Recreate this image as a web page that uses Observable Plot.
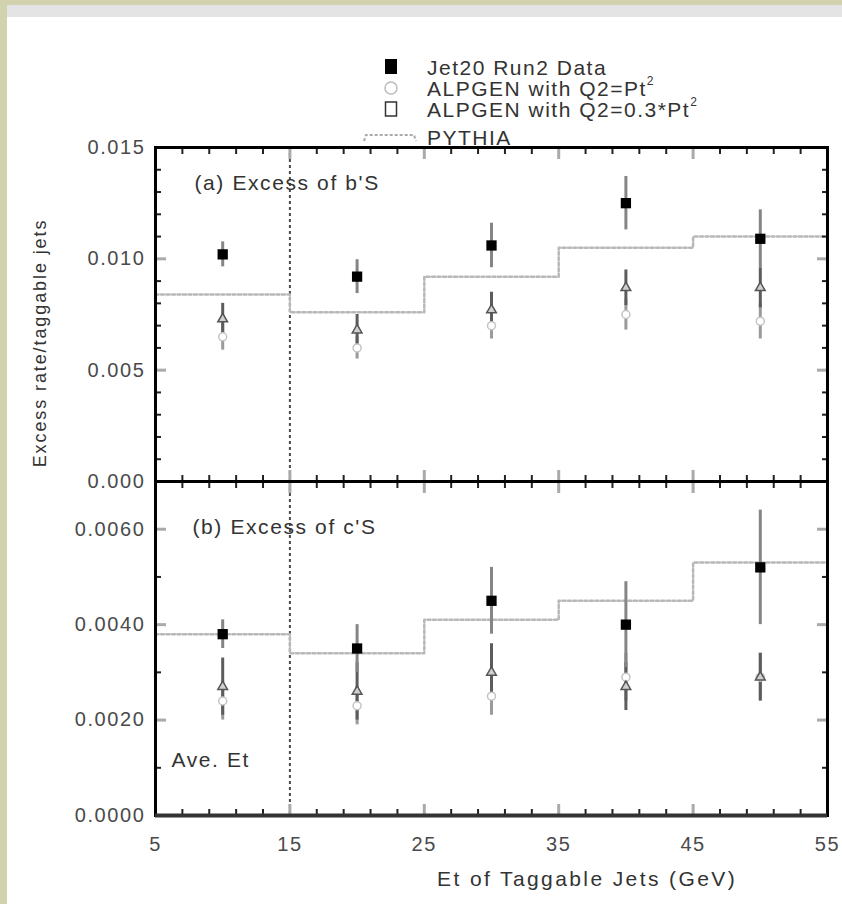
<!DOCTYPE html>
<html>
<head>
<meta charset="utf-8">
<script src="https://cdn.jsdelivr.net/npm/d3@7"></script>
<script src="https://cdn.jsdelivr.net/npm/@observablehq/plot@0.6"></script>
<style>
  html, body { margin: 0; padding: 0; background: #ffffff; }
  #page { position: relative; width: 842px; height: 904px; overflow: hidden; background: #ffffff;
          font-family: "Liberation Sans", Arial, Helvetica, sans-serif; color: #333; }
  .strip-left { position: absolute; left: 0; top: 0; width: 7px; height: 904px; background: #d3d2ae; }
  .strip-top { position: absolute; left: 0; top: 0; width: 842px; height: 5px; background: #d3d2ae; }
  .band { position: absolute; left: 7px; top: 5px; width: 835px; height: 12px; background: #e4e4e4; }
  .abs { position: absolute; }
  .txt { font-size: 21px; letter-spacing: 1.5px; color: #333; white-space: nowrap; line-height: 1; }
  sup { font-size: 12px; position: relative; top: -3px; letter-spacing: 0; }
</style>
</head>
<body>
<div id="page">
  <div class="strip-left"></div>
  <div class="strip-top"></div>
  <div class="band"></div>
  <div id="panelA" class="abs" style="left:0; top:17px;"></div>
  <div id="panelB" class="abs" style="left:0; top:476px;"></div>
  <div id="legend" class="abs" style="left:0; top:0;"></div>
  <div class="abs txt" id="ytitle" style="left:40px; top:343px; transform: translate(-50%,-50%) rotate(-90deg); font-size:18px; letter-spacing:1.9px;">Excess rate/taggable jets</div>
  <div class="abs txt" style="left:437px; top:868px; letter-spacing:2.4px;">Et of Taggable Jets (GeV)</div>
</div>
<script>
// ---------------- data ----------------
const etBins = [10, 20, 30, 40, 50];
const pythiaEdges = [5, 15, 25, 35, 45, 55];

// (a) Excess of b'S
const bData = [0.0102, 0.0092, 0.0106, 0.0125, 0.0109];
const bDataErr = [0.00056, 0.00076, 0.0010, 0.0012, 0.0013];
const bAlpQ03 = [0.0073, 0.0068, 0.0077, 0.0087, 0.0087];
const bAlpQ03Err = [0.0007, 0.0007, 0.0008, 0.0008, 0.0009];
const bAlpQ1 = [0.0065, 0.0060, 0.0070, 0.0075, 0.0072];
const bAlpQ1Err = [0.0006, 0.0005, 0.0006, 0.0007, 0.0008];
const bPythia = [0.0084, 0.0076, 0.0092, 0.0105, 0.0110];

// (b) Excess of c'S
const cData = [0.0038, 0.0035, 0.0045, 0.0040, 0.0052];
const cDataErr = [0.0003, 0.0005, 0.0007, 0.0009, 0.0012];
const cAlpQ03 = [0.0027, 0.0026, 0.0030, 0.0027, 0.0029];
const cAlpQ03Err = [0.0006, 0.0006, 0.0006, 0.0005, 0.0005];
const cAlpQ1 = [0.0024, 0.0023, 0.0025, 0.0029, 0.0029];
const cAlpQ1Err = [0.0004, 0.0004, 0.0004, 0.0005, 0.0005];
const cPythia = [0.0038, 0.0034, 0.0041, 0.0045, 0.0053];

const aveEt = 15;
const xTickLabels = [5, 15, 25, 35, 45, 55];
const xMajorTicks = [15, 25, 35, 45];
const xMinorTicks = [7, 9, 11, 13, 17, 19, 21, 23, 27, 29, 31, 33, 37, 39, 41, 43, 47, 49, 51, 53];
const aYLabels = [0, 0.005, 0.010, 0.015];
const aYMinor = [0.001, 0.002, 0.003, 0.004, 0.006, 0.007, 0.008, 0.009, 0.011, 0.012, 0.013, 0.014];
const bYLabels = [0, 0.002, 0.004, 0.006];
const bYMinor = [0.001, 0.003, 0.005, 0.007];

const legendItems = [
  {label: "Jet20 Run2 Data", sup: ""},
  {label: "ALPGEN with Q2=Pt", sup: "2"},
  {label: "ALPGEN with Q2=0.3*Pt", sup: "2"},
  {label: "PYTHIA", sup: ""}
];

// ---------------- helpers ----------------
const rows = (v, e) => etBins.map((x, i) => ({x, y: v[i], lo: v[i] - e[i], hi: v[i] + e[i]}));
const steps = (v) => pythiaEdges.map((x, i) => ({x, y: v[Math.min(i, v.length - 1)]}));

const W = 842, ML = 155, MR = 15;

function panel(o) {
  const data = rows(o.data, o.dataErr);
  const tri = rows(o.tri, o.triErr);
  const circ = rows(o.circ, o.circErr);
  const marks = [
    Plot.ruleX([aveEt], {stroke: "#4a4a4a", strokeWidth: 2, strokeDasharray: "3,3"}),
    Plot.line(steps(o.pythia), {x: "x", y: "y", curve: "step-after", stroke: "#b8b8b8", strokeWidth: 2.5, strokeDasharray: "3,2.5"}),
    Plot.ruleX(circ, {x: "x", y1: "lo", y2: "hi", stroke: "#9a9a9a", strokeWidth: 3}),
    Plot.ruleX(tri, {x: "x", y1: "lo", y2: "hi", stroke: "#5c5c5c", strokeWidth: 3}),
    Plot.ruleX(data, {x: "x", y1: "lo", y2: "hi", stroke: "#858585", strokeWidth: 3}),
    Plot.dot(circ, {x: "x", y: "y", symbol: "circle", r: 4, stroke: "#c4c4c4", strokeWidth: 1.5, fill: "white"}),
    Plot.dot(tri, {x: "x", y: "y", symbol: "triangle", r: 3.6, stroke: "#555", strokeWidth: 1.5, fill: "#d0d0d0"}),
    Plot.dot(data, {x: "x", y: "y", symbol: "square", r: 5.8, fill: "black"}),
    // inward ticks
    Plot.axisY({anchor: "left", ticks: o.yMinor, tickSize: -6, stroke: "#222", strokeWidth: 2, fill: "none", label: null}),
    Plot.axisY({anchor: "right", ticks: o.yMinor, tickSize: -6, stroke: "#222", strokeWidth: 2, fill: "none", label: null}),
    Plot.axisY({anchor: "left", ticks: o.yLabels, tickSize: -11, stroke: "#aaa", strokeWidth: 3, fill: "none", label: null}),
    Plot.axisY({anchor: "right", ticks: o.yLabels, tickSize: -11, stroke: "#aaa", strokeWidth: 3, fill: "none", label: null}),
    Plot.axisX({anchor: "bottom", ticks: xMinorTicks, tickSize: -6, stroke: "#222", strokeWidth: 2, fill: "none", label: null}),
    Plot.axisX({anchor: "top", ticks: xMinorTicks, tickSize: -6, stroke: "#222", strokeWidth: 2, fill: "none", label: null}),
    Plot.axisX({anchor: "bottom", ticks: xMajorTicks, tickSize: -11, stroke: "#aaa", strokeWidth: 3, fill: "none", label: null}),
    Plot.axisX({anchor: "top", ticks: xMajorTicks, tickSize: -11, stroke: "#aaa", strokeWidth: 3, fill: "none", label: null}),
    Plot.frame({stroke: "black", strokeWidth: 3}),
    // tick labels
    Plot.axisY({anchor: "left", ticks: o.yLabels, tickSize: 0, tickPadding: 10, tickFormat: o.fmt, fill: "#4a4a4a", label: null}),
    Plot.text([o.title], {frameAnchor: "top-left", dx: o.titleDx, dy: o.titleDy, textAnchor: "start", lineAnchor: "middle", fill: "#333", fontSize: 21})
  ];
  if (o.extra) marks.push(...o.extra);
  if (o.showX) {
    marks.push(Plot.axisX({anchor: "bottom", ticks: xTickLabels, tickSize: 0, tickPadding: 21, tickFormat: d3.format("d"), fill: "#4a4a4a", label: null}));
  }
  return Plot.plot({
    width: W,
    height: o.height,
    marginLeft: ML,
    marginRight: MR,
    marginTop: o.marginTop,
    marginBottom: o.marginBottom,
    x: {domain: [5, 55]},
    y: {domain: o.yDomain},
    style: {background: "transparent", fontFamily: "'Liberation Sans', Arial, Helvetica, sans-serif", fontSize: "20px", letterSpacing: "1.6px", color: "#333", overflow: "visible"},
    marks
  });
}

document.getElementById("panelA").appendChild(panel({
  data: bData, dataErr: bDataErr, tri: bAlpQ03, triErr: bAlpQ03Err, circ: bAlpQ1, circErr: bAlpQ1Err, pythia: bPythia,
  yDomain: [0, 0.015], yLabels: aYLabels, yMinor: aYMinor, fmt: d3.format(".3f"),
  title: "(a) Excess of b'S", titleDx: 39, titleDy: 36,
  height: 469, marginTop: 130, marginBottom: 5, showX: false
}));

document.getElementById("panelB").appendChild(panel({
  data: cData, dataErr: cDataErr, tri: cAlpQ03, triErr: cAlpQ03Err, circ: cAlpQ1, circErr: cAlpQ1Err, pythia: cPythia,
  yDomain: [0, 0.007], yLabels: bYLabels, yMinor: bYMinor, fmt: d3.format(".4f"),
  title: "(b) Excess of c'S", titleDx: 37, titleDy: 46,
  extra: [
    Plot.text(["Ave. Et"], {frameAnchor: "bottom-left", dx: 16, dy: -55, textAnchor: "start", lineAnchor: "middle", fill: "#333", fontSize: 21}),
    Plot.axisX({anchor: "bottom", ticks: [], tickSize: 0, fill: "none", label: null}),
    Plot.ruleY([0], {stroke: "#333", strokeWidth: 4})
  ],
  height: 428, marginTop: 5, marginBottom: 89, showX: true
}));

// ---------------- legend ----------------
const legend = document.getElementById("legend");
const rowY = [67, 88, 109, 137];
const ns = "http://www.w3.org/2000/svg";
const svg = document.createElementNS(ns, "svg");
svg.setAttribute("width", 842); svg.setAttribute("height", 160);
svg.style.position = "absolute"; svg.style.left = "0"; svg.style.top = "0"; svg.style.overflow = "visible";
function el(name, attrs) { const e = document.createElementNS(ns, name); for (const k in attrs) e.setAttribute(k, attrs[k]); svg.appendChild(e); return e; }
el("rect", {x: 385, y: rowY[0] - 8, width: 12, height: 15, fill: "black"});
el("circle", {cx: 391, cy: rowY[1], r: 6, fill: "white", stroke: "#bbb", "stroke-width": 1.5});
el("rect", {x: 385.5, y: rowY[2] - 7, width: 11, height: 14, fill: "white", stroke: "#333", "stroke-width": 1.5});
el("path", {d: `M364,${rowY[3] + 4} L366,${rowY[3] - 2} L414,${rowY[3] - 2} L416,${rowY[3] + 4}`, fill: "none", stroke: "#aaa", "stroke-width": 2, "stroke-dasharray": "3,2"});
legend.appendChild(svg);
legendItems.forEach((d, i) => {
  const t = document.createElement("div");
  t.className = "abs txt";
  t.style.left = "427px";
  t.style.top = (rowY[i] - 10) + "px";
  t.textContent = d.label;
  if (d.sup) { const s = document.createElement("sup"); s.textContent = d.sup; t.appendChild(s); }
  legend.appendChild(t);
});
</script>
</body>
</html>
